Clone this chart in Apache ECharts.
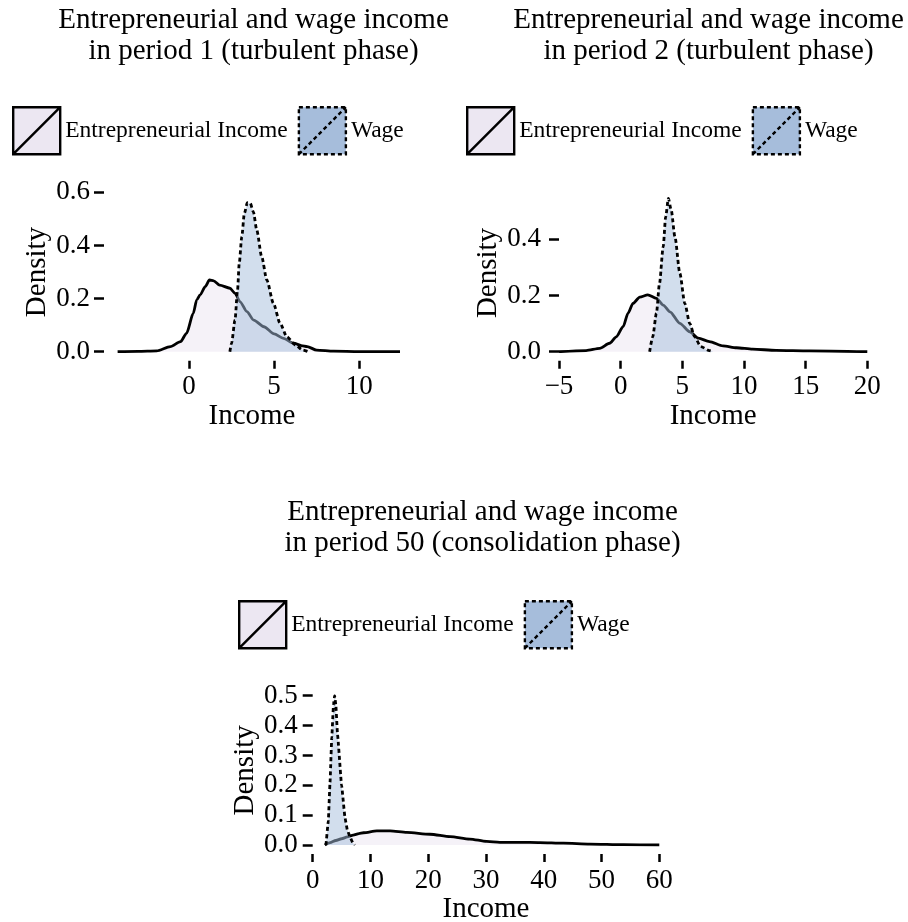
<!DOCTYPE html>
<html>
<head>
<meta charset="utf-8">
<script src="https://cdn.jsdelivr.net/npm/echarts@6/dist/echarts.min.js"></script>
<style>
html,body{margin:0;padding:0;background:#fff;}
#chart{width:908px;height:922px;}
</style>
</head>
<body>
<div id="chart"></div>
<script>
// ---------- texts ----------
const titleTexts = [
  'Entrepreneurial and wage income\nin period 1 (turbulent phase)',
  'Entrepreneurial and wage income\nin period 2 (turbulent phase)',
  'Entrepreneurial and wage income\nin period 50 (consolidation phase)'
];
const seriesNames = ['Entrepreneurial Income', 'Wage'];
const xAxisName = 'Income';
const yAxisName = 'Density';

// ---------- tick values ----------
const xTicks1 = [0, 5, 10];
const xTicks2 = [-5, 0, 5, 10, 15, 20];
const xTicks3 = [0, 10, 20, 30, 40, 50, 60];
const yTicks1 = [0, 0.2, 0.4, 0.6];
const yTicks2 = [0, 0.2, 0.4];
const yTicks3 = [0, 0.1, 0.2, 0.3, 0.4, 0.5];

// ---------- period 1 ----------
const p1EntX = [-4.2, -3.0, -1.9, -1.1, -0.5, -0.15, 0.25, 0.45, 0.65, 0.95, 1.2, 1.45, 1.8, 2.4, 2.7, 3.0, 3.4, 3.8, 4.4, 5.0, 5.55, 6.15, 6.6, 6.95, 7.5, 8.5, 10.0, 12.4];
const p1EntY = [0, 0.001, 0.003, 0.019, 0.038, 0.069, 0.145, 0.195, 0.214, 0.245, 0.270, 0.267, 0.251, 0.239, 0.220, 0.188, 0.151, 0.119, 0.094, 0.067, 0.050, 0.032, 0.023, 0.019, 0.006, 0.002, 0.0005, 0];
const p1WageX = [2.4, 2.5, 2.7, 2.85, 2.95, 3.1, 3.25, 3.43, 3.6, 3.78, 3.98, 4.27, 4.57, 4.96, 5.35, 5.75, 6.25, 6.7, 7.0];
const p1WageY = [0, 0.032, 0.119, 0.232, 0.333, 0.433, 0.521, 0.561, 0.559, 0.527, 0.458, 0.358, 0.270, 0.182, 0.107, 0.056, 0.025, 0.006, 0];

// ---------- period 2 ----------
const p2EntX = [-5.0, -2.8, -1.7, -0.9, -0.35, 0.2, 0.6, 1.0, 1.55, 2.2, 2.9, 3.45, 4.0, 4.8, 5.6, 6.3, 7.2, 8.3, 9.4, 10.7, 12.6, 15.3, 20.0];
const p2EntY = [0, 0.004, 0.012, 0.030, 0.053, 0.089, 0.137, 0.172, 0.194, 0.202, 0.190, 0.166, 0.142, 0.101, 0.071, 0.048, 0.036, 0.021, 0.014, 0.009, 0.005, 0.003, 0];
const p2WageX = [2.35, 2.6, 2.9, 3.15, 3.45, 3.65, 3.87, 4.1, 4.4, 4.8, 5.2, 5.6, 6.0, 6.5, 7.2, 7.5];
const p2WageY = [0, 0.053, 0.137, 0.243, 0.374, 0.480, 0.545, 0.504, 0.409, 0.279, 0.172, 0.101, 0.053, 0.018, 0.004, 0];

// ---------- period 50 ----------
const p3EntX = [2.1, 3, 4, 5, 6, 7, 8, 8.8, 11.1, 13.4, 16.3, 20.3, 23.8, 27.2, 30.1, 32.4, 35.9, 39.3, 43.4, 48, 53.8, 60];
const p3EntY = [0, 0.008, 0.015, 0.021, 0.027, 0.033, 0.038, 0.041, 0.047, 0.047, 0.042, 0.036, 0.028, 0.020, 0.012, 0.009, 0.009, 0.008, 0.006, 0.003, 0.001, 0];
const p3WageX = [2.3, 2.7, 3.0, 3.3, 3.6, 3.8, 4.0, 4.3, 5.0, 5.6, 6.0, 6.5, 7.0, 7.3];
const p3WageY = [0, 0.08, 0.21, 0.36, 0.47, 0.50, 0.47, 0.37, 0.20, 0.09, 0.05, 0.025, 0.005, 0];

// ---------- styling / layout ----------
const FONT = "'Liberation Serif','Times New Roman','DejaVu Serif',serif";
const ENT_FILL = '#ece7f2';
const WAGE_FILL = '#a6bddb';
const ICON = 'path://M0,0L10,0L10,10L0,10Z M0,10L10,0';

const grids = [
  {left: 104, top: 192.4, width: 296, height: 159.3},
  {left: 559, top: 194.3, width: 308.3, height: 157.4},
  {left: 312.7, top: 695.7, width: 346.6, height: 149.3}
];
const xRanges = [[-5, 12.4], [-5, 20], [0, 60]];
const yMaxes = [0.6, 0.56, 0.5];
const xTickSets = [xTicks1, xTicks2, xTicks3];
const yTickSets = [yTicks1, yTicks2, yTicks3];
const yLabelMargins = [14, 18, 15];
const titlePos = [{left: 253.5, top: 5}, {left: 708.5, top: 5}, {left: 482.5, top: 496.5}];
const legendPos = [{left: 12, top: 106}, {left: 466, top: 106}, {left: 238, top: 600}];

const pairs = (xs, ys) => xs.map((x, k) => [x, ys[k]]);
const dataSets = [
  [pairs(p1EntX, p1EntY), pairs(p1WageX, p1WageY)],
  [pairs(p2EntX, p2EntY), pairs(p2WageX, p2WageY)],
  [pairs(p3EntX, p3EntY), pairs(p3WageX, p3WageY)]
];

const axisText = {color: '#000', fontFamily: FONT};

const option = {
  animation: false,
  backgroundColor: '#fff',
  title: titlePos.map((p, i) => ({
    text: titleTexts[i],
    left: p.left, top: p.top, textAlign: 'center', padding: 0,
    textStyle: {fontSize: 29, lineHeight: 31, fontWeight: 'normal', fontFamily: FONT, color: '#000'}
  })),
  legend: legendPos.map(p => ({
    left: p.left, top: p.top, orient: 'horizontal', padding: 0,
    itemWidth: 47, itemHeight: 47, itemGap: 10, selectedMode: false,
    textStyle: {fontSize: 23.5, fontFamily: FONT, color: '#000'},
    data: [
      {name: seriesNames[0], icon: ICON,
       itemStyle: {color: ENT_FILL, opacity: 1, borderColor: '#000', borderWidth: 2.4, borderType: 'solid'}},
      {name: seriesNames[1], icon: ICON,
       itemStyle: {color: WAGE_FILL, opacity: 1, borderColor: '#000', borderWidth: 2.4, borderType: [4, 3]}}
    ]
  })),
  grid: grids.map(g => Object.assign({containLabel: false, outerBoundsMode: 'none'}, g)),
  xAxis: xRanges.map((r, i) => ({
    type: 'value', gridIndex: i, min: r[0], max: r[1], offset: 9,
    axisLine: {show: false, onZero: false}, splitLine: {show: false},
    axisTick: {show: true, length: 8, customValues: xTickSets[i], lineStyle: {color: '#000', width: 2.5}},
    axisLabel: Object.assign({customValues: xTickSets[i], margin: 13, fontSize: 27,
      formatter: v => String(v).replace('-', '\u2212')}, axisText),
    name: xAxisName, nameLocation: 'middle', nameGap: 37,
    nameTextStyle: Object.assign({fontSize: 29}, axisText)
  })),
  yAxis: yMaxes.map((m, i) => ({
    type: 'value', gridIndex: i, min: 0, max: m,
    axisLine: {show: false, onZero: false}, splitLine: {show: false},
    axisTick: {show: true, length: 10, customValues: yTickSets[i], lineStyle: {color: '#000', width: 2.5}},
    axisLabel: Object.assign({customValues: yTickSets[i], margin: yLabelMargins[i], fontSize: 27,
      formatter: v => v.toFixed(1)}, axisText),
    name: yAxisName, nameLocation: 'middle', nameGap: 51,
    nameTextStyle: Object.assign({fontSize: 29}, axisText)
  })),
  series: []
};

dataSets.forEach((ds, i) => {
  option.series.push({
    name: seriesNames[0], type: 'line', xAxisIndex: i, yAxisIndex: i, z: 2,
    data: ds[0], symbol: 'none', showSymbol: false, smooth: 0.25, smoothMonotone: 'x',
    lineStyle: {color: '#000', width: 2.8, type: 'solid'},
    itemStyle: {color: ENT_FILL},
    areaStyle: {color: ENT_FILL, opacity: 0.55},
    emphasis: {disabled: true}
  });
  option.series.push({
    name: seriesNames[1], type: 'line', xAxisIndex: i, yAxisIndex: i, z: 3,
    data: ds[1], symbol: 'none', showSymbol: false, smooth: i === 2 ? 0.1 : 0.25, smoothMonotone: 'x',
    lineStyle: {color: '#000', width: 2.8, type: [4, 3]},
    itemStyle: {color: WAGE_FILL},
    areaStyle: {color: WAGE_FILL, opacity: 0.5},
    emphasis: {disabled: true}
  });
});

const chart = echarts.init(document.getElementById('chart'), null, {renderer: 'canvas'});
chart.setOption(option);
</script>
</body>
</html>
